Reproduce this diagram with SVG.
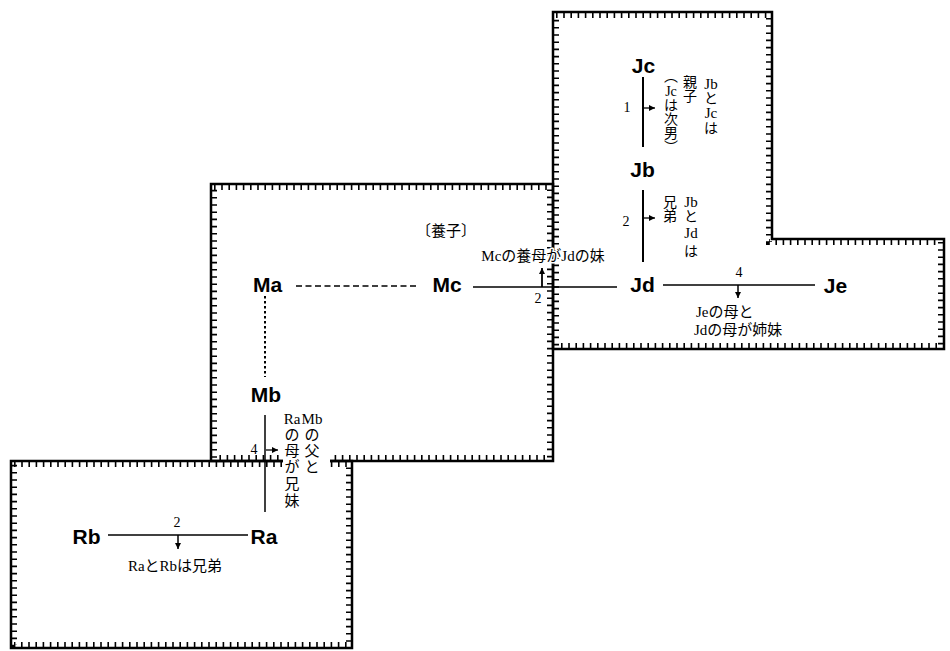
<svg xmlns="http://www.w3.org/2000/svg" width="950" height="651" viewBox="0 0 950 651">
<style>
.bd{fill:none;stroke:#000;stroke-width:2.5}
.tk{fill:none;stroke:#000;stroke-width:6;stroke-dasharray:1.6 5.6}
.nd{font-family:"Liberation Sans",Arial,sans-serif;font-weight:bold;font-size:21px;fill:#000;text-anchor:middle}
.ann{font-family:"Liberation Serif","Noto Sans CJK JP",serif;font-size:15px;fill:#000}
.vt{font-family:"Liberation Serif","Noto Sans CJK JP",serif;font-size:14px;fill:#000;text-anchor:middle}
.la{font-size:15px}
.vt2{font-family:"Liberation Serif","Noto Sans CJK JP",serif;font-size:15px;fill:#000;text-anchor:middle}
.num{font-family:"Liberation Serif",serif;font-size:14px;fill:#000;text-anchor:middle}
.ln{stroke:#000;fill:none}
.halo{paint-order:stroke;stroke:#fff;stroke-width:3px;stroke-linejoin:round}
</style>
<defs>
<marker id="ah" viewBox="0 0 6 6" refX="6" refY="3" markerWidth="6" markerHeight="6" markerUnits="userSpaceOnUse" orient="auto"><path d="M0,0 L6,3 L0,6 z" fill="#000"/></marker>
</defs>
<rect width="950" height="651" fill="#fff"/>

<g id="regions">
<g id="region-J">
<polygon class="bd" points="553,12 772,12 772,239 944,239 944,349 553,349"/>
<polygon class="tk" points="556,15 769,15 769,242 941,242 941,346 556,346"/>
</g>
<g id="region-M">
<polygon class="bd" points="211,184 553,184 553,461 211,461"/>
<polygon class="tk" points="214,187 550,187 550,458 214,458"/>
</g>
<g id="region-R">
<polygon class="bd" points="11,461 352,461 352,648 11,648"/>
<polygon class="tk" points="14,464 349,464 349,645 14,645"/>
</g>
<rect x="283" y="452" width="47" height="18" fill="#fff"/>
</g>

<g id="connectors">
<line class="ln" x1="643" y1="77" x2="643" y2="147" stroke-width="2"/>
<line class="ln" x1="643" y1="190" x2="643" y2="262" stroke-width="2"/>
<line class="ln" x1="296" y1="286" x2="418" y2="286" stroke-width="1.5" stroke-dasharray="6 3.5"/>
<line class="ln" x1="473" y1="287" x2="617" y2="287" stroke-width="1.3"/>
<line class="ln" x1="663" y1="285" x2="815" y2="285" stroke-width="1.3"/>
<line class="ln" x1="265" y1="296" x2="265" y2="377" stroke-width="2" stroke-dasharray="2.5 2.5"/>
<line class="ln" x1="265" y1="415" x2="265" y2="512" stroke-width="1.5"/>
<line class="ln" x1="108" y1="535" x2="248" y2="535" stroke-width="1.3"/>
<line class="ln" x1="644" y1="108" x2="655" y2="108" stroke-width="1.3" marker-end="url(#ah)"/>
<line class="ln" x1="644" y1="218" x2="655" y2="218" stroke-width="1.3" marker-end="url(#ah)"/>
<line class="ln" x1="266" y1="450" x2="278" y2="450" stroke-width="1.3" marker-end="url(#ah)"/>
<line class="ln" x1="542" y1="287" x2="542" y2="268" stroke-width="1.8" marker-end="url(#ah)"/>
<line class="ln" x1="738" y1="285" x2="738" y2="298" stroke-width="1.5" marker-end="url(#ah)"/>
<line class="ln" x1="178" y1="535" x2="178" y2="549" stroke-width="1.5" marker-end="url(#ah)"/>
</g>

<g id="node-Jc"><text class="nd" x="643.5" y="73">Jc</text></g>
<g id="node-Jb"><text class="nd" x="642.5" y="177">Jb</text></g>
<g id="node-Ma"><text class="nd" x="267.5" y="292">Ma</text></g>
<g id="node-Mc"><text class="nd" x="447" y="292">Mc</text></g>
<g id="node-Jd"><text class="nd" x="642.5" y="292">Jd</text></g>
<g id="node-Je"><text class="nd" x="835.5" y="293">Je</text></g>
<g id="node-Mb"><text class="nd" x="266" y="402">Mb</text></g>
<g id="node-Ra"><text class="nd" x="264" y="544">Ra</text></g>
<g id="node-Rb"><text class="nd" x="86.5" y="544">Rb</text></g>

<g id="labels">
<text class="num" x="627" y="112">1</text>
<text class="num" x="626" y="226">2</text>
<text class="num" x="254" y="454">4</text>
<text class="num" x="538" y="303">2</text>
<text class="num" x="739" y="277">4</text>
<text class="num" x="177" y="527">2</text>

<text class="vt"><tspan class="la" x="711" y="89">Jb</tspan><tspan x="711" y="103">と</tspan><tspan class="la" x="711" y="118">Jc</tspan><tspan x="711" y="133">は</tspan></text>
<text class="vt"><tspan x="690" y="87">親</tspan><tspan x="690" y="101">子</tspan></text>
<text class="vt"><tspan x="671" y="81">︵</tspan><tspan x="671" y="96">Jc</tspan><tspan x="671" y="110">は</tspan><tspan x="671" y="124">次</tspan><tspan x="671" y="138">男</tspan><tspan x="671" y="152">︶</tspan></text>

<text class="vt"><tspan class="la" x="691" y="207">Jb</tspan><tspan x="691" y="221">と</tspan><tspan class="la" x="691" y="238">Jd</tspan><tspan x="691" y="256">は</tspan></text>
<text class="vt"><tspan x="670" y="207">兄</tspan><tspan x="670" y="221">弟</tspan></text>

<text class="ann" x="446" y="236" text-anchor="middle">〔養子〕</text>
<text class="ann halo" x="543" y="261" text-anchor="middle">Mcの養母がJdの妹</text>
<text class="ann" x="696" y="317">Jeの母と</text>
<text class="ann" x="694" y="335">Jdの母が姉妹</text>
<text class="ann" x="175" y="571" text-anchor="middle">RaとRbは兄弟</text>

<text class="vt2"><tspan x="312" y="424">Mb</tspan><tspan x="312" y="440">の</tspan><tspan x="312" y="456">父</tspan><tspan x="312" y="472">と</tspan></text>
<text class="vt2"><tspan x="292" y="424">Ra</tspan><tspan x="292" y="440">の</tspan><tspan x="292" y="456">母</tspan><tspan x="292" y="472">が</tspan><tspan x="292" y="489">兄</tspan><tspan x="292" y="506">妹</tspan></text>
</g>
</svg>
